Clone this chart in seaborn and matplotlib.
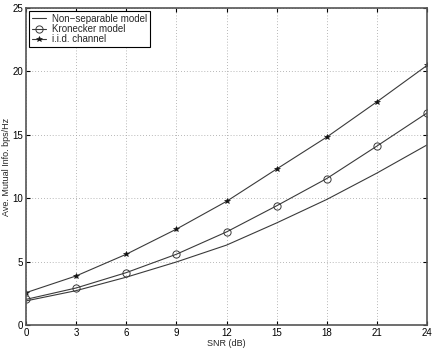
import matplotlib
matplotlib.use("Agg")
import matplotlib.pyplot as plt
import seaborn as sns
import pandas as pd

snr = [0, 3, 6, 9, 12, 15, 18, 21, 24]
non_separable = [1.9, 2.71, 3.77, 4.97, 6.3, 8.05, 9.9, 11.98, 14.2]
kronecker = [2.02, 2.92, 4.13, 5.58, 7.34, 9.4, 11.55, 14.11, 16.72]
iid = [2.55, 3.87, 5.58, 7.56, 9.75, 12.3, 14.82, 17.6, 20.47]
series_names = ["Non\u2212separable model", "Kronecker model", "i.i.d. channel"]
xticks = [0, 3, 6, 9, 12, 15, 18, 21, 24]
yticks = [0, 5, 10, 15, 20, 25]

sns.set_style("white")
plt.rcParams['font.family'] = ['Liberation Sans', 'DejaVu Sans']

fig = plt.figure(figsize=(4.36, 3.49), dpi=100)
ax = fig.add_axes([26/436, 1 - 325/349, (427-26)/436, (325-8)/349])

lc = "#3a3a3a"
df = pd.DataFrame({"snr": snr * 3,
                   "val": non_separable + kronecker + iid,
                   "series": [series_names[0]] * 9 + [series_names[1]] * 9 + [series_names[2]] * 9})

sns.lineplot(data=df[df.series == series_names[0]], x="snr", y="val", ax=ax,
             color=lc, lw=0.8, label=series_names[0])
sns.lineplot(data=df[df.series == series_names[1]], x="snr", y="val", ax=ax,
             color=lc, lw=0.8, marker="o", markersize=5.2, markerfacecolor="none",
             markeredgecolor=lc, markeredgewidth=0.7, label=series_names[1])
sns.lineplot(data=df[df.series == series_names[2]], x="snr", y="val", ax=ax,
             color=lc, lw=0.8, marker="*", markersize=4, markerfacecolor="#111",
             markeredgecolor="#111", markeredgewidth=0.4, label=series_names[2])

ax.set_xlim(0, 24)
ax.set_ylim(0, 25)
ax.set_xticks(xticks)
ax.set_yticks(yticks)
ax.tick_params(direction="in", length=3, labelsize=7, colors="black", pad=2,
               top=True, right=True, bottom=True, left=True)
ax.grid(True, linestyle=(0, (1, 2.5)), color="#a0a0a0", lw=0.6)
for s in ax.spines.values():
    s.set_color("#555555")
    s.set_linewidth(1.2)
ax.set_xlabel("SNR (dB)", fontsize=6.5, labelpad=1)
ax.set_ylabel("Ave. Mutual Info. bps/Hz", fontsize=6.5, labelpad=1)

leg = ax.legend(loc="upper left", fontsize=7, frameon=True, fancybox=False,
                edgecolor="black", borderpad=0.25, labelspacing=0.02,
                handlelength=1.5, handletextpad=0.6, borderaxespad=0.35)
leg.get_frame().set_linewidth(0.8)
leg.get_frame().set_alpha(1)

fig.savefig("out.png", dpi=100)
